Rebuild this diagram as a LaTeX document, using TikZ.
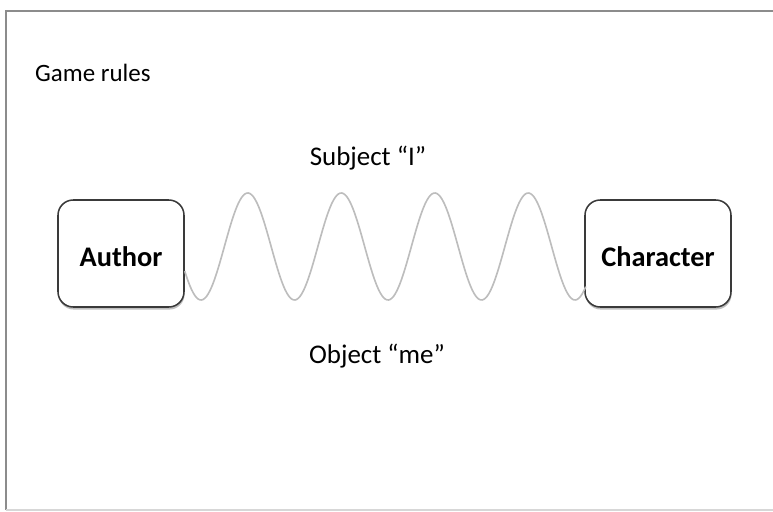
\documentclass[tikz,border=0pt]{standalone}
\usepackage{fontspec}
\setmainfont{Carlito}
\usepackage{tikz}
\usetikzlibrary{positioning,shadows}
\definecolor{framegray}{HTML}{8C8C8C}
\definecolor{wavegray}{HTML}{BDBDBD}
\definecolor{boxline}{HTML}{3A3A3A}

\begin{document}
\begin{tikzpicture}[
  x=0.03cm, y=-0.03cm,
  rolebox/.style={draw=boxline, line width=1.3pt, rounded corners=13pt, fill=white,
    minimum height=107*0.03cm, align=center, text height=23pt, text depth=0pt,
    font=\bfseries\fontsize{24.2}{28}\selectfont,
    drop shadow={shadow xshift=0.5pt, shadow yshift=-2.2pt, opacity=0.5}},
  pronoun/.style={anchor=base, inner sep=0pt, font=\fontsize{23}{27}\selectfont},
  wave/.style={draw=wavegray, line width=1.4pt},
]
  \useasboundingbox (0,0) rectangle (773,512);
  \clip (0,0) rectangle (773,512);

  % Frame
  \draw[framegray, line width=1.6pt] (6,510) -- (6,11) -- (790,11);
  \draw[framegray!35, line width=1pt] (6,510) -- (790,510);

  % Title
  \node[anchor=base west, inner sep=0pt, font=\fontsize{21.3}{25}\selectfont] (title) at (35,82) {Game rules};

  % Boxes
  \node[rolebox, minimum width=126*0.03cm] (author) at (121,253.5) {Author};
  \node[rolebox, minimum width=146*0.03cm] (char) at (658,253.5) {Character};

  % Wave between the two
  \draw[wave] plot[domain=0:401, samples=241, smooth]
    ([shift={(\x,{-7-53.5*cos((\x-63)*3.8503)})}]author.east);

  % Labels
  \node[pronoun] (subj) at (368,166) {Subject “I”};
  \node[pronoun] (obj) at (377,364) {Object “me”};
\end{tikzpicture}
\end{document}
